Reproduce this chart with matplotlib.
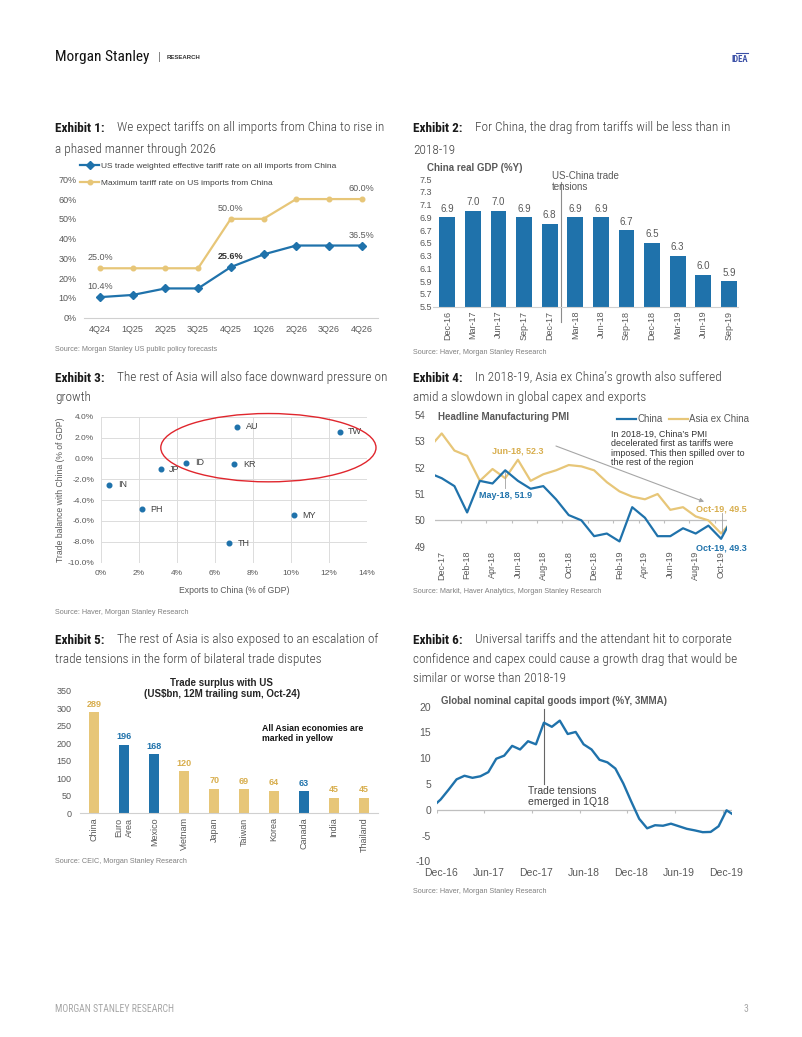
import numpy as np
import matplotlib
matplotlib.use('Agg')
import matplotlib.pyplot as plt
from matplotlib.patches import Ellipse
from matplotlib import font_manager as fm

# ---------------- data ----------------
# Exhibit 1
ex1_quarters = ['4Q24', '1Q25', '2Q25', '3Q25', '4Q25', '1Q26', '2Q26', '3Q26', '4Q26']
ex1_effective = [10.4, 11.5, 14.8, 14.8, 25.6, 32.0, 36.5, 36.5, 36.5]
ex1_maximum = [25.0, 25.0, 25.0, 25.0, 50.0, 50.0, 60.0, 60.0, 60.0]
ex1_label_idx = [0, 4, 8]
ex1_series = ['US trade weighted effective tariff rate on all imports from China',
              'Maximum tariff rate on US imports from China']

# Exhibit 2
ex2_quarters = ['Dec-16', 'Mar-17', 'Jun-17', 'Sep-17', 'Dec-17', 'Mar-18', 'Jun-18',
                'Sep-18', 'Dec-18', 'Mar-19', 'Jun-19', 'Sep-19']
ex2_gdp = [6.9, 7.0, 7.0, 6.9, 6.8, 6.9, 6.9, 6.7, 6.5, 6.3, 6.0, 5.9]

# Exhibit 3
ex3_codes = ['AU', 'TW', 'ID', 'KR', 'JP', 'IN', 'PH', 'MY', 'TH']
ex3_exports = [7.19, 12.57, 4.50, 7.03, 3.16, 0.44, 2.16, 10.16, 6.75]
ex3_balance = [3.04, 2.56, -0.41, -0.54, -1.05, -2.52, -4.89, -5.43, -8.15]

# Exhibit 4
ex4_months = ['Nov-17', 'Dec-17', 'Jan-18', 'Feb-18', 'Mar-18', 'Apr-18', 'May-18', 'Jun-18',
              'Jul-18', 'Aug-18', 'Sep-18', 'Oct-18', 'Nov-18', 'Dec-18', 'Jan-19', 'Feb-19',
              'Mar-19', 'Apr-19', 'May-19', 'Jun-19', 'Jul-19', 'Aug-19', 'Sep-19', 'Oct-19',
              'Nov-19']
ex4_china = [51.8, 51.6, 51.3, 50.3, 51.5, 51.4, 51.9, 51.5, 51.2, 51.3, 50.8, 50.2, 50.0,
             49.4, 49.5, 49.2, 50.5, 50.1, 49.4, 49.4, 49.7, 49.5, 49.8, 49.3, 50.2]
ex4_asia = [52.75, 53.3, 52.65, 52.45, 51.5, 51.95, 51.6, 52.3, 51.5, 51.75, 51.9, 52.1, 52.05,
            51.9, 51.45, 51.1, 50.9, 50.8, 51.0, 50.4, 50.5, 50.15, 50.0, 49.5, 50.05]

# Exhibit 5
ex5_economies = ['China', 'Euro\nArea', 'Mexico', 'Vietnam', 'Japan', 'Taiwan', 'Korea',
                 'Canada', 'India', 'Thailand']
ex5_surplus = [289, 196, 168, 120, 70, 69, 64, 63, 45, 45]
ex5_asian = [True, False, False, True, True, True, True, False, True, True]

# Exhibit 6 (monthly, Nov-16 .. Jan-20)
ex6_tick_labels = ['Dec-16', 'Jun-17', 'Dec-17', 'Jun-18', 'Dec-18', 'Jun-19', 'Dec-19']
ex6_capex = [0.6, 2.0, 3.9, 5.9, 6.6, 6.2, 6.5, 7.3, 9.9, 10.5, 12.4, 11.7, 13.3, 12.7,
             16.9, 16.1, 17.3, 14.7, 15.1, 12.7, 11.7, 9.7, 9.2, 8.0, 5.1, 1.6, -1.75,
             -3.6, -3.0, -3.1, -2.7, -3.2, -3.7, -4.0, -4.35, -4.3, -3.2, -0.1, -1.1]

# ---------------- style ----------------
BLUE = '#1f72ab'
GOLD = '#E7C678'
GOLD_TXT = '#D8AE4E'
GREY = '#595959'
LGREY = '#bfbfbf'
SRC = '#808080'

avail = {f.name for f in fm.fontManager.ttflist}
cond_kw = None
for name in ['Roboto Condensed', 'Liberation Sans Narrow', 'Open Sans Condensed']:
    if name in avail:
        cond_kw = {'family': name}
        break
if cond_kw is None:
    if any(f.name == 'DejaVu Sans' and f.stretch == 'condensed' for f in fm.fontManager.ttflist):
        cond_kw = {'family': 'DejaVu Sans', 'stretch': 'condensed'}
    else:
        cond_kw = {'family': 'Roboto'}

plt.rcParams['font.family'] = ['Liberation Sans', 'DejaVu Sans']
plt.rcParams['axes.unicode_minus'] = False

W, H = 802, 1037
fig = plt.figure(figsize=(W / 100, H / 100), dpi=100)
fig.patch.set_facecolor('white')


def px_ax(l, t, r, b):
    return fig.add_axes([l / W, 1 - b / H, (r - l) / W, (b - t) / H])


def T(x, y, s, **kw):
    kw.setdefault('va', 'center')
    kw.setdefault('ha', 'left')
    return fig.text(x / W, 1 - y / H, s, **kw)


def clean(ax, keep_bottom=True):
    for k, sp in ax.spines.items():
        sp.set_visible(False)
    if keep_bottom:
        ax.spines['bottom'].set_visible(True)
        ax.spines['bottom'].set_color('#d0d0d0')
        ax.spines['bottom'].set_linewidth(0.8)
    ax.set_facecolor('none')


# ---------------- header / footer ----------------
ms = T(55, 57, 'Morgan Stanley', fontsize=11, color='#111111', **cond_kw)
T(158, 57, '|', fontsize=8, color='#777777')
T(167, 57.5, 'RESEARCH', fontsize=4.3, color='#333333', weight='bold')
T(748, 59, 'IDEA', fontsize=6.2, color='#3a4fa6', weight='bold', ha='right', **cond_kw)
fig.add_artist(plt.Line2D([736 / W, 748 / W], [1 - 52.5 / H, 1 - 52.5 / H], color='#3a4fa6', lw=0.8))
T(55, 1009, 'MORGAN STANLEY RESEARCH', fontsize=7, color='#a6a6a6', **cond_kw)
T(748, 1009, '3', fontsize=7, color='#a6a6a6', ha='right', **cond_kw)

# ---------------- exhibit titles ----------------
titles = [
    (55, 117, [128, 150], 'Exhibit 1:',
     ['We expect tariffs on all imports from China to rise in', 'a phased manner through 2026']),
    (413, 475, [128, 150], 'Exhibit 2:',
     ['For China, the drag from tariffs will be less than in', '2018-19']),
    (55, 117, [378, 398], 'Exhibit 3:',
     ['The rest of Asia will also face downward pressure on', 'growth']),
    (413, 475, [378, 398], 'Exhibit 4:',
     ['In 2018-19, Asia ex China\u2019s growth also suffered', 'amid a slowdown in global capex and exports']),
    (55, 117, [640, 659], 'Exhibit 5:',
     ['The rest of Asia is also exposed to an escalation of',
      'trade tensions in the form of bilateral trade disputes']),
    (413, 475, [640, 659, 679], 'Exhibit 6:',
     ['Universal tariffs and the attendant hit to corporate',
      'confidence and capex could cause a growth drag that would be',
      'similar or worse than 2018-19']),
]
title_texts = []
ref_text = None
for x0, xb, ys, lab, lines in titles:
    title_texts.append(T(x0, ys[0], lab, fontsize=10, color='#1a1a1a', weight='bold', **cond_kw))
    for i, (yy, ln) in enumerate(zip(ys, lines)):
        t = T(xb if i == 0 else x0, yy, ln, fontsize=10, color='#404040', weight='light',
              **cond_kw)
        title_texts.append(t)
        if ln.startswith('confidence'):
            ref_text = t

# ---------------- Exhibit 1 ----------------
ax1 = px_ax(83.6, 179.3, 378, 317.7)
clean(ax1)
x1 = np.arange(len(ex1_quarters))
lg, = ax1.plot(x1, ex1_maximum, color=GOLD, lw=1.6, marker='o', ms=3.3, zorder=2, label=ex1_series[1])
lb, = ax1.plot(x1, ex1_effective, color=BLUE, lw=1.6, marker='D', ms=3.6, zorder=3, label=ex1_series[0])
ax1.set_xlim(-0.5, 8.5)
ax1.set_ylim(0, 70)
ax1.set_yticks(np.arange(0, 71, 10))
ax1.set_yticklabels([f'{v}%' for v in range(0, 71, 10)])
ax1.set_xticks(x1)
ax1.set_xticklabels(ex1_quarters)
ax1.tick_params(length=0, labelsize=6.5, colors=GREY)
ax1.tick_params(axis='y', pad=5)
ax1.tick_params(axis='x', pad=5)
for i in ex1_label_idx:
    ax1.annotate(f'{ex1_maximum[i]:.1f}%', (x1[i], ex1_maximum[i]), xytext=(0, 7.5),
                 textcoords='offset points', ha='center', va='center', fontsize=6.5, color=GREY)
    bold = (i == 4)
    ax1.annotate(f'{ex1_effective[i]:.1f}%', (x1[i], ex1_effective[i]), xytext=(0, 7.5),
                 textcoords='offset points', ha='center', va='center', fontsize=6.5,
                 color='#333333' if bold else GREY, weight='bold' if bold else 'normal')
leg1 = ax1.legend(handles=[lb, lg], loc='upper left', bbox_to_anchor=(80 / W, 1 - 162.5 / H),
                  bbox_transform=fig.transFigure, frameon=False, fontsize=6, handlelength=2.3,
                  handletextpad=0.2, labelspacing=1.05, borderpad=0, borderaxespad=0,
                  numpoints=1)
for t in leg1.get_texts():
    t.set_color('#404040')
T(55, 349, 'Source: Morgan Stanley US public policy forecasts', fontsize=5.2, color=SRC)

# ---------------- Exhibit 2 ----------------
ax2 = px_ax(433.2, 179, 737.9, 306.7)
clean(ax2)
x2 = np.arange(len(ex2_quarters))
ax2.bar(x2, ex2_gdp, width=0.62, color=BLUE)
ax2.set_xlim(-0.55, 11.35)
ax2.set_ylim(5.5, 7.5)
yt2 = np.round(np.arange(5.5, 7.51, 0.2), 1)
ax2.set_yticks(yt2)
ax2.set_yticklabels([f'{v:.1f}' for v in yt2])
ax2.set_xticks(x2)
ax2.set_xticklabels(ex2_quarters, rotation=90)
ax2.tick_params(length=0, labelsize=6.5, colors=GREY)
ax2.tick_params(axis='x', pad=3)
ax2.tick_params(axis='y', pad=1)
for xi, v in zip(x2, ex2_gdp):
    ax2.annotate(f'{v:.1f}', (xi, v), xytext=(0, 2.5), textcoords='offset points',
                 ha='center', va='bottom', fontsize=7, color=GREY)
ax2.axvline(4.45, ymin=-0.117, ymax=0.979, color='#8c8c8c', lw=0.8, clip_on=False)
T(551.7, 181.2, 'US-China trade\ntensions', fontsize=7, color=GREY, linespacing=1.15)
T(427, 167.7, 'China real GDP (%Y)', fontsize=7, color=GREY, weight='bold')
T(413, 352.7, 'Source: Haver, Morgan Stanley Research', fontsize=5.2, color=SRC)

# ---------------- Exhibit 3 ----------------
ax3 = px_ax(101, 416.7, 366.7, 562.7)
clean(ax3, keep_bottom=False)
ax3.set_xlim(0, 14)
ax3.set_ylim(-10, 4)
ax3.set_xticks(np.arange(0, 15, 2))
ax3.set_xticklabels([f'{v}%' for v in range(0, 15, 2)])
ax3.set_yticks(np.arange(-10, 5, 2))
ax3.set_yticklabels([f'{v:.1f}%' for v in range(-10, 5, 2)])
ax3.grid(True, color='#dcdcdc', lw=0.7)
ax3.set_axisbelow(True)
ax3.tick_params(length=0, labelsize=6, colors=GREY, pad=5)
ax3.scatter(ex3_exports, ex3_balance, s=11, color=BLUE, zorder=3, clip_on=False)
for c, xv, yv in zip(ex3_codes, ex3_exports, ex3_balance):
    ax3.annotate(c, (xv, yv), xytext=(6, 0), textcoords='offset points', ha='left',
                 va='center', fontsize=6.5, color='#404040')
ax3.add_patch(Ellipse((8.82, 1.03), 11.34, 6.55, fill=False, edgecolor='#e0262d', lw=1.0,
                      clip_on=False, zorder=4))
ax3.set_xlabel('Exports to China (% of GDP)', fontsize=6.2, color=GREY, labelpad=7)
ax3.set_ylabel('Trade balance with China (% of GDP)', fontsize=6.2, color=GREY, labelpad=2)
T(55, 613, 'Source: Haver, Morgan Stanley Research', fontsize=5.2, color=SRC)

# ---------------- Exhibit 4 ----------------
ax4 = px_ax(435, 415, 727.45, 546.7)
clean(ax4, keep_bottom=False)
x4 = np.arange(len(ex4_months)) - 1
lc, = ax4.plot(x4, ex4_china, color=BLUE, lw=1.6, label='China', zorder=3)
la, = ax4.plot(x4, ex4_asia, color=GOLD, lw=1.6, label='Asia ex China', zorder=2)
ax4.set_xlim(-0.53, 22.5)
ax4.set_ylim(49, 54)
ax4.axhline(50, color=LGREY, lw=0.9, zorder=1)
ax4.vlines(np.arange(1.5, 22, 2), 49.89, 50, color=LGREY, lw=0.8, zorder=1)
ax4.set_yticks(np.arange(49, 55))
ax4.set_xticks(x4[1::2])
ax4.set_xticklabels(ex4_months[1::2], rotation=90)
ax4.tick_params(length=0, labelsize=6.5, colors=GREY)
ax4.tick_params(axis='y', labelsize=7, pad=7)
ax4.tick_params(axis='x', pad=3)
i_jun18 = ex4_months.index('Jun-18')
i_may18 = ex4_months.index('May-18')
i_oct19 = ex4_months.index('Oct-19')
ax4.text(x4[i_jun18], 52.64, f'Jun-18, {ex4_asia[i_jun18]}', fontsize=6.5, color=GOLD_TXT,
         weight='bold', ha='center', va='center')
ax4.text(x4[i_may18], 50.93, f'May-18, {ex4_china[i_may18]}', fontsize=6.5, color=BLUE,
         weight='bold', ha='center', va='center')
ax4.plot([x4[i_may18], x4[i_may18]], [51.85, 51.22], color='#a0a0a0', lw=0.6)
ax4.text(x4[i_oct19], 50.43, f'Oct-19, {ex4_asia[i_oct19]}', fontsize=6.5, color=GOLD_TXT,
         weight='bold', ha='center', va='center', clip_on=False)
ax4.plot([x4[i_oct19] + 0.05, x4[i_oct19] + 0.05], [50.27, 49.53], color='#a0a0a0', lw=0.6)
ax4.text(x4[i_oct19], 48.96, f'Oct-19, {ex4_china[i_oct19]}', fontsize=6.5, color=BLUE,
         weight='bold', ha='center', va='center', clip_on=False)
ax4.annotate('', xy=(20.87, 50.67), xytext=(8.79, 52.86),
             arrowprops=dict(arrowstyle='-|>', color='#a6a6a6', lw=0.8, mutation_scale=6))
ax4.text(13.34, 53.42, 'In 2018-19, China\u2019s PMI\ndecelerated first as tariffs were\n'
         'imposed. This then spilled over to\nthe rest of the region',
         fontsize=6.4, color='#333333', ha='left', va='top', linespacing=1.02)
leg4 = ax4.legend(handles=[lc, la], loc='center left', bbox_to_anchor=(617 / W, 1 - 419.3 / H),
                  bbox_transform=fig.transFigure, frameon=False, fontsize=7, ncol=2,
                  handlelength=2.0, handletextpad=0.1, columnspacing=0.6, borderpad=0,
                  borderaxespad=0)
for t in leg4.get_texts():
    t.set_color(GREY)
T(438, 417.3, 'Headline Manufacturing PMI', fontsize=7, color=GREY, weight='bold')
T(413, 591.7, 'Source: Markit, Haver Analytics, Morgan Stanley Research', fontsize=5.2, color=SRC)

# ---------------- Exhibit 5 ----------------
ax5 = px_ax(80, 690.7, 378.3, 813.3)
clean(ax5)
x5 = np.arange(len(ex5_economies))
cols5 = [GOLD if a else BLUE for a in ex5_asian]
ax5.bar(x5, ex5_surplus, width=0.34, color=cols5)
ax5.set_xlim(-0.48, 9.48)
ax5.set_ylim(0, 350)
ax5.set_yticks(np.arange(0, 351, 50))
ax5.set_xticks(x5)
ax5.set_xticklabels(ex5_economies, rotation=90)
ax5.tick_params(length=0, labelsize=6.5, colors=GREY)
ax5.tick_params(axis='y', pad=6)
ax5.tick_params(axis='x', pad=3)
for xi, v, a in zip(x5, ex5_surplus, ex5_asian):
    ax5.annotate(f'{v}', (xi, v), xytext=(0, 2.5), textcoords='offset points', ha='center',
                 va='bottom', fontsize=6.5, weight='bold', color=GOLD_TXT if a else BLUE)
T(221.7, 688.4, 'Trade surplus with US\n(US$bn, 12M trailing sum, Oct-24)', fontsize=7,
  color='#262626', weight='bold', ha='center', linespacing=1.15)
T(262.3, 733.8, 'All Asian economies are\nmarked in yellow', fontsize=6.3, color='#111111',
  weight='bold', linespacing=1.1)
T(55, 861.7, 'Source: CEIC, Morgan Stanley Research', fontsize=5.2, color=SRC)

# ---------------- Exhibit 6 ----------------
ax6 = px_ax(436.7, 706.7, 731.7, 861.3)
clean(ax6, keep_bottom=False)
x6 = np.arange(len(ex6_capex)) - 0.5
ax6.plot(x6, ex6_capex, color=BLUE, lw=1.7, zorder=3)
ax6.set_xlim(0, 37.15)
ax6.set_ylim(-10, 20)
ax6.axhline(0, color=LGREY, lw=0.9, zorder=1)
ax6.vlines(np.arange(0, 37, 6), -0.6, 0, color=LGREY, lw=0.8, zorder=1)
ax6.set_yticks(np.arange(-10, 21, 5))
ax6.set_xticks(np.arange(0, 37, 6) + 0.5)
ax6.set_xticklabels(ex6_tick_labels)
ax6.tick_params(length=0, labelsize=7.5, colors=GREY)
ax6.tick_params(axis='y', pad=4)
ax6.tick_params(axis='x', pad=4.5)
i_tt = 14  # Feb-18 observation
ax6.plot([x6[i_tt], x6[i_tt]], [19.6, 5.0], color='#666666', lw=0.8, zorder=2)
ax6.text(11.5, 2.6, 'Trade tensions\nemerged in 1Q18', fontsize=7.5, color='#404040',
         ha='left', va='center', linespacing=1.1)
T(440.7, 701, 'Global nominal capital goods import (%Y, 3MMA)', fontsize=7, color=GREY,
  weight='bold')
T(413, 891.7, 'Source: Haver, Morgan Stanley Research', fontsize=5.2, color=SRC)

# ---------------- fit title fonts to the reference widths ----------------
fig.canvas.draw()
r = fig.canvas.get_renderer()
w = ref_text.get_window_extent(r).width
scale = 324.0 / w
for t in title_texts:
    t.set_fontsize(10 * scale)
w = ms.get_window_extent(r).width
ms.set_fontsize(11 * 94.0 / w)

fig.savefig('out.png', dpi=100, facecolor='white')
